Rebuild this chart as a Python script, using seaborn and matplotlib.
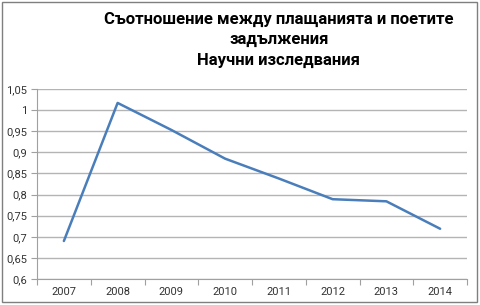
import matplotlib
matplotlib.use("Agg")
import matplotlib.pyplot as plt
import seaborn as sns
import pandas as pd
from matplotlib.patches import Rectangle
from matplotlib.ticker import FixedLocator, FuncFormatter

years = ["2007", "2008", "2009", "2010", "2011", "2012", "2013", "2014"]
ratio = [0.690, 1.017, 0.953, 0.885, 0.838, 0.789, 0.784, 0.719]
title_lines = ["Съотношение между плащанията и поетите", "задължения", "Научни изследвания"]
y_ticks = [0.6, 0.65, 0.7, 0.75, 0.8, 0.85, 0.9, 0.95, 1.0, 1.05]

sns.set_theme(style="white")
plt.rcParams["font.family"] = ["Roboto", "DejaVu Sans"]

df = pd.DataFrame({"year": years, "ratio": ratio})

W, H = 481, 305
fig = plt.figure(figsize=(W / 100, H / 100), dpi=100)
fig.patch.set_facecolor("white")
ax = fig.add_axes([37 / W, 1 - 279 / H, (467 - 37) / W, (279 - 89) / H])

sns.lineplot(data=df, x="year", y="ratio", ax=ax, color="#4A7EBB", linewidth=1.8, sort=False)

ax.set_xlim(-0.5, len(years) - 0.5)
ax.set_ylim(0.6, 1.05)
ax.set_yticks(y_ticks)
ax.yaxis.set_major_formatter(FuncFormatter(lambda v, p: ("%g" % round(v, 2)).replace(".", ",")))
ax.grid(axis="y", color="#B4B4B4", linewidth=1.0)
ax.grid(axis="x", visible=False)
ax.set_xlabel("")
ax.set_ylabel("")

ax.set_xticks(range(len(years)))
ax.set_xticklabels(years)
ax.xaxis.set_minor_locator(FixedLocator([i - 0.5 for i in range(len(years) + 1)]))
ax.tick_params(axis="x", which="major", length=0, pad=6, labelsize=8, colors="#333333")
ax.tick_params(axis="x", which="minor", bottom=True, length=4, width=0.8, color="#A0A0A0")
ax.tick_params(axis="y", which="major", left=True, length=4, width=0.8, color="#A0A0A0", labelsize=8, labelcolor="#333333", pad=3)

for s in ["top", "right"]:
    ax.spines[s].set_visible(False)
for s in ["left", "bottom"]:
    ax.spines[s].set_color("#A0A0A0")
    ax.spines[s].set_linewidth(0.8)

baselines = [24, 44, 65]
for line, b in zip(title_lines, baselines):
    fig.text(279 / W, 1 - b / H, line, ha="center", va="baseline",
             fontsize=12, fontweight="bold", color="black")

fig.patches.append(Rectangle((2 / W, 1 - 301.5 / H), (477.5 - 2) / W, (301.5 - 2) / H,
                             transform=fig.transFigure, fill=False,
                             edgecolor="#7F7F7F", linewidth=1.0))

fig.savefig("out.png", dpi=100)
